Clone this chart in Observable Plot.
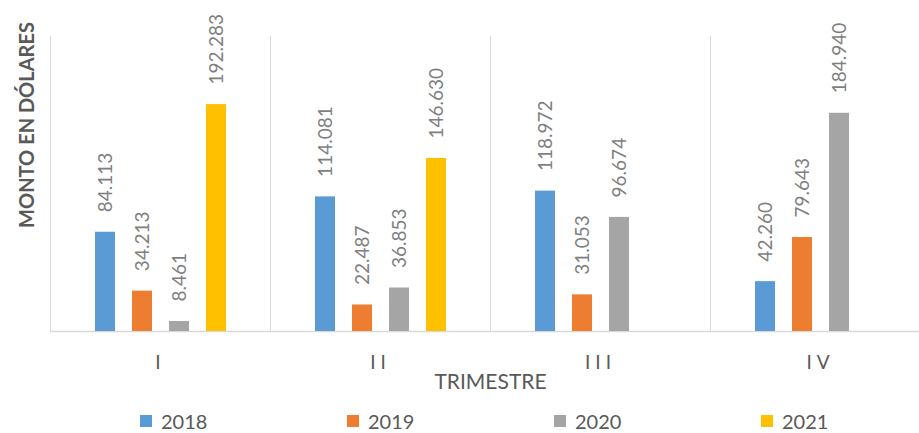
<!DOCTYPE html>
<html><head><meta charset="utf-8">
<script src="https://cdn.jsdelivr.net/npm/d3@7"></script>
<script src="https://cdn.jsdelivr.net/npm/@observablehq/plot@0.6"></script>
<style>
html,body{margin:0;padding:0;background:#fff;overflow:hidden}
#wrap{position:relative;width:919px;height:433px;overflow:hidden;font-family:Lato,"Open Sans",sans-serif;background:#fff}
#chart{position:absolute;left:0;top:0;width:930px}
#ylab{position:absolute;left:26px;top:125px;transform:translate(-50%,-50%) rotate(-90deg);white-space:nowrap;font-size:20px;font-weight:700;color:#595959}
#legend{position:absolute;left:140px;top:409px;display:flex}
.item{width:207px;display:flex;align-items:center;font-size:20px;color:#595959;line-height:24px}
.sw{width:12px;height:12px;margin-right:9px;display:inline-block}
#chart svg g[aria-label="fx-axis tick label"] text{letter-spacing:5px}
#chart svg g[aria-label="fx-axis label"] text{font-size:21px}
</style></head><body>
<div id="wrap"><div id="chart"></div><div id="ylab">MONTO EN DÓLARES</div><div id="legend"></div></div>
<script>
const quarters = ["I", "II", "III", "IV"];
const years = ["2018", "2019", "2020", "2021"];
const v2018 = [84113, 114081, 118972, 42260];
const v2019 = [34213, 22487, 31053, 79643];
const v2020 = [8461, 36853, 96674, 184940];
const v2021 = [192283, 146630, null, null];
const colors = ["#5b9bd5", "#ed7d31", "#a5a5a5", "#ffc000"];
const xTitle = "TRIMESTRE";

const series = [v2018, v2019, v2020, v2021];
const rows = [];
quarters.forEach((q, qi) => {
  years.forEach((y, yi) => {
    const v = series[yi][qi];
    if (v != null) rows.push({q, year: y, value: v});
  });
});
const fmt = v => d3.format(",")(v).replace(/,/g, ".");

const chart = Plot.plot({
  width: 930, height: 400,
  marginLeft: 50, marginRight: 0, marginTop: 36, marginBottom: 69,
  style: {fontFamily: "Lato, 'Open Sans', sans-serif", fontSize: "19px", background: "#fff", overflow: "visible", maxWidth: "none"},
  fx: {domain: quarters, padding: 0},
  x: {domain: years, paddingInner: 0.467, paddingOuter: 1.167, axis: null},
  y: {domain: [0, 250000], axis: null},
  color: {domain: years, range: colors},
  marks: [
    Plot.frame({anchor: "left", stroke: "#d9d9d9", strokeOpacity: 1}),
    Plot.ruleY([0], {stroke: "#d9d9d9", strokeWidth: 1.5}),
    Plot.barY(rows, {fx: "q", x: "year", y: "value", fill: "year"}),
    Plot.text(rows, {fx: "q", x: "year", y: "value", text: d => fmt(d.value), rotate: -90, textAnchor: "start", dy: -20, fill: "#7f7f7f", fontSize: 19}),
    Plot.axisFx({anchor: "bottom", tickSize: 0, tickPadding: 24, fill: "#595959", label: xTitle, labelAnchor: "center", labelOffset: 57})
  ]
});
document.getElementById("chart").appendChild(chart);

const leg = document.getElementById("legend");
years.forEach((y, i) => {
  const it = document.createElement("div");
  it.className = "item";
  it.innerHTML = `<span class="sw" style="background:${colors[i]}"></span><span>${y}</span>`;
  leg.appendChild(it);
});
</script>
</body></html>
